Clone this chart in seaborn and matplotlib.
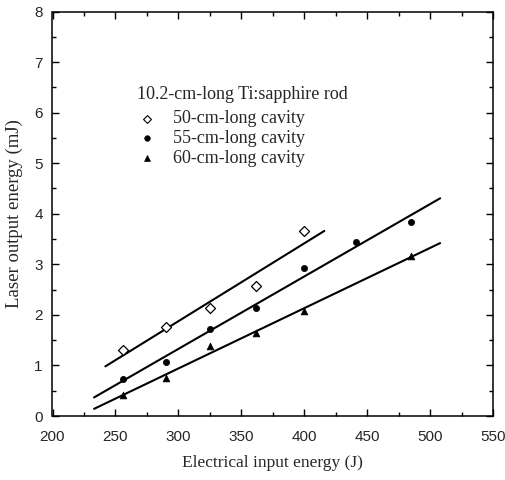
import numpy as np
import pandas as pd
import matplotlib
matplotlib.use("Agg")
import matplotlib.pyplot as plt
import seaborn as sns
from matplotlib.ticker import MultipleLocator

# ---- data ----
x50 = [256, 290, 325, 362, 400]
y50 = [1.30, 1.76, 2.13, 2.58, 3.65]

x55 = [256, 290, 325, 362, 400, 441, 485]
y55 = [0.73, 1.07, 1.72, 2.13, 2.93, 3.45, 3.83]

x60 = [256, 290, 325, 362, 400, 485]
y60 = [0.42, 0.75, 1.38, 1.64, 2.07, 3.17]

series_names = ["50-cm-long cavity", "55-cm-long cavity", "60-cm-long cavity"]
fit_start = [242, 233, 233]
fit_end = [416, 508, 508]
legend_title = "10.2-cm-long Ti:sapphire rod"
x_ticks = [200, 250, 300, 350, 400, 450, 500, 550]
y_ticks = [0, 1, 2, 3, 4, 5, 6, 7, 8]

sns.set_style("ticks")
plt.rcParams["font.family"] = ["Liberation Serif", "DejaVu Serif"]

fig = plt.figure(figsize=(5.06, 4.80), dpi=100)
ax = fig.add_axes([52.5 / 506, 1 - 416 / 480, (493 - 52.5) / 506, (416 - 11.5) / 480])

df = pd.DataFrame({
    "x": x50 + x55 + x60,
    "y": y50 + y55 + y60,
    "s": [series_names[0]] * len(x50) + [series_names[1]] * len(x55) + [series_names[2]] * len(x60),
})

# fitted lines
for (xs, ys), x0, x1 in zip([(x50, y50), (x55, y55), (x60, y60)], fit_start, fit_end):
    m, b = np.polyfit(xs, ys, 1)
    xx = np.array([x0, x1], dtype=float)
    sns.lineplot(x=xx, y=m * xx + b, ax=ax, color="black", lw=1.5, legend=False)

# markers
styles = [
    dict(marker="D", s=26, facecolor="white", edgecolor="black", linewidth=0.9),
    dict(marker="o", s=20, facecolor="black", edgecolor="black", linewidth=0.5),
    dict(marker="^", s=24, facecolor="black", edgecolor="black", linewidth=0.5),
]
leg_styles = [
    dict(marker="D", s=16, facecolor="white", edgecolor="black", linewidth=0.8),
    dict(marker="o", s=16, facecolor="black", edgecolor="black", linewidth=0.5),
    dict(marker="^", s=18, facecolor="black", edgecolor="black", linewidth=0.5),
]
handles = []
for name, st, lst in zip(series_names, styles, leg_styles):
    sub = df[df["s"] == name]
    sns.scatterplot(data=sub, x="x", y="y", ax=ax, zorder=3, legend=False, **st)
    handles.append(ax.scatter([], [], label=name, **lst))

ax.set_xlim(200, 550)
ax.set_ylim(0, 8)
ax.set_xticks(x_ticks)
ax.set_yticks(y_ticks)
ax.xaxis.set_minor_locator(MultipleLocator(25))
ax.yaxis.set_minor_locator(MultipleLocator(0.5))
ax.tick_params(which="both", direction="in", top=True, right=True, width=1.0, color="black")
ax.tick_params(which="major", length=5)
ax.tick_params(which="minor", length=3)
ax.tick_params(axis="x", which="major", pad=10)
ax.tick_params(axis="y", which="major", pad=7)
for lab in ax.get_xticklabels() + ax.get_yticklabels():
    lab.set_family(["Liberation Sans", "DejaVu Sans"])
    lab.set_fontsize(11)
for sp in ax.spines.values():
    sp.set_visible(True)
    sp.set_linewidth(1.1)
    sp.set_color("black")

ax.set_xlabel("Electrical input energy (J)", fontsize=12.5, labelpad=8)
ax.set_ylabel("Laser output energy (mJ)", fontsize=13.5, labelpad=8)

leg = ax.legend(handles=handles, title=legend_title, loc="upper left",
                bbox_to_anchor=(0.191, 0.815), frameon=False, fontsize=13,
                title_fontsize=13, handlelength=1.1, handletextpad=0.9,
                labelspacing=0.15, borderaxespad=0, borderpad=0)
leg._legend_box.align = "left"
leg._legend_box.sep = 5

fig.savefig("out.png", dpi=100)
